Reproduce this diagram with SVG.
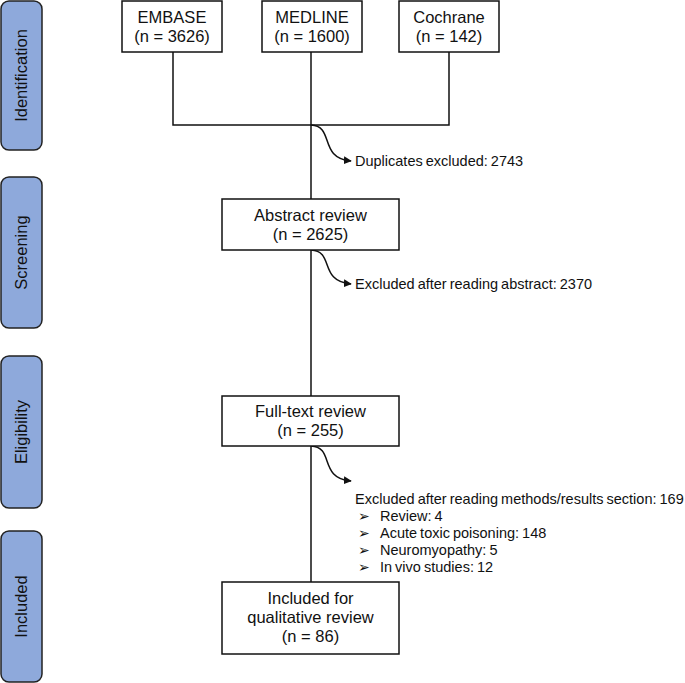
<svg xmlns="http://www.w3.org/2000/svg" width="685" height="683" viewBox="0 0 685 683">
<style>
text{font-family:"Liberation Sans",Arial,sans-serif;fill:#111}
.box{fill:#fff;stroke:#111;stroke-width:1.5}
.side{fill:#8EA9DB;stroke:#222;stroke-width:1.5}
.st{font-size:16.5px}
.bt{font-size:16.5px;text-anchor:middle}
.lt{font-size:14.5px;word-spacing:-1px}
.bl{font-size:14px;font-family:"DejaVu Sans",sans-serif}
.ln{fill:none;stroke:#111;stroke-width:1.5}
</style>
<defs>
<marker id="ah" viewBox="0 0 10 10" refX="9" refY="5" markerWidth="8" markerHeight="8" markerUnits="userSpaceOnUse" orient="auto">
<path d="M0,0 L10,5 L0,10 Z" fill="#111"/>
</marker>
</defs>
<rect width="685" height="683" fill="#fff"/>

<g id="side-identification"><rect class="side" x="1" y="1" width="41" height="149" rx="8"/><text class="st" text-anchor="middle" transform="translate(27,75.5) rotate(-90)">Identification</text></g>
<g id="side-screening"><rect class="side" x="1" y="177" width="41" height="151" rx="8"/><text class="st" text-anchor="middle" transform="translate(27,252.5) rotate(-90)">Screening</text></g>
<g id="side-eligibility"><rect class="side" x="1" y="356" width="41" height="152" rx="8"/><text class="st" text-anchor="middle" transform="translate(27,432) rotate(-90)">Eligibility</text></g>
<g id="side-included"><rect class="side" x="1" y="531" width="41" height="151" rx="8"/><text class="st" text-anchor="middle" transform="translate(27,606.5) rotate(-90)">Included</text></g>

<g id="connectors">
<path class="ln" d="M173,52 V125 H449 V52"/>
<path class="ln" d="M311,52 V199"/>
<path class="ln" d="M311,250 V396"/>
<path class="ln" d="M311,446 V582"/>
<path class="ln" d="M311,125 C335,126 318,158 351,161" marker-end="url(#ah)"/>
<path class="ln" d="M311,250 C335,251 318,281 351,284" marker-end="url(#ah)"/>
<path class="ln" d="M311,446 C335,447 318,478 351,481" marker-end="url(#ah)"/>
</g>

<g id="embase"><rect class="box" x="122" y="1" width="100" height="51"/><text class="bt" x="172" y="23">EMBASE</text><text class="bt" x="172" y="42">(n = 3626)</text></g>
<g id="medline"><rect class="box" x="262" y="1" width="100" height="51"/><text class="bt" x="312" y="23">MEDLINE</text><text class="bt" x="312" y="42">(n = 1600)</text></g>
<g id="cochrane"><rect class="box" x="399" y="1" width="100" height="51"/><text class="bt" x="449" y="23">Cochrane</text><text class="bt" x="449" y="42">(n = 142)</text></g>

<g id="duplicates"><text class="lt" x="355" y="166">Duplicates excluded: 2743</text></g>

<g id="abstract"><rect class="box" x="222" y="199" width="177" height="51"/><text class="bt" x="310.5" y="221">Abstract review</text><text class="bt" x="310.5" y="240">(n = 2625)</text></g>

<g id="excl-abstract"><text class="lt" x="355" y="289">Excluded after reading abstract: 2370</text></g>

<g id="fulltext"><rect class="box" x="222" y="396" width="177" height="50"/><text class="bt" x="310.5" y="417">Full-text review</text><text class="bt" x="310.5" y="436">(n = 255)</text></g>

<g id="excl-fulltext">
<text class="lt" x="355" y="504">Excluded after reading methods/results section: 169</text>
<text class="bl" x="358" y="521">➢</text><text class="lt" x="380" y="521">Review: 4</text>
<text class="bl" x="358" y="538">➢</text><text class="lt" x="380" y="538">Acute toxic poisoning: 148</text>
<text class="bl" x="358" y="555">➢</text><text class="lt" x="380" y="555">Neuromyopathy: 5</text>
<text class="bl" x="358" y="572">➢</text><text class="lt" x="380" y="572">In vivo studies: 12</text>
</g>

<g id="included"><rect class="box" x="222" y="582" width="177" height="72"/><text class="bt" x="310.5" y="604">Included for</text><text class="bt" x="310.5" y="623">qualitative review</text><text class="bt" x="310.5" y="642">(n = 86)</text></g>
</svg>
